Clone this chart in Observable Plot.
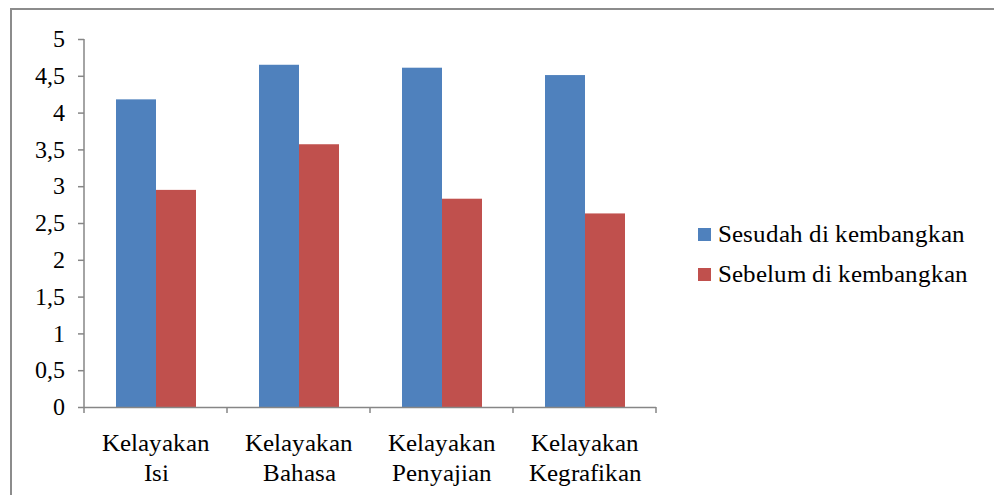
<!DOCTYPE html>
<html>
<head>
<meta charset="utf-8">
<script src="https://cdn.jsdelivr.net/npm/d3@7"></script>
<script src="https://cdn.jsdelivr.net/npm/@observablehq/plot@0.6"></script>
<style>
  @font-face { font-family: "ChartSerif"; src: local("Liberation Serif"), local("LiberationSerif"), local("LiberationSerif-Regular"), local("Times New Roman"), local("DejaVu Serif"), local("DejaVuSerif"), local("Noto Serif"), local("FreeSerif"), local("Nimbus Roman"), local("NimbusRoman-Regular"); }
  html, body { margin: 0; padding: 0; background: #fff; }
  body { width: 994px; height: 495px; position: relative; overflow: hidden; font-family: "ChartSerif", "Liberation Serif", "DejaVu Serif", serif; }
  #frame { position: absolute; left: 10px; top: 8px; width: 1100px; height: 600px; border: 2px solid #8c8c8c; box-sizing: border-box; }
  #chart { position: absolute; left: 0; top: 0; }
  #legend { position: absolute; left: 698px; top: 214px; font-size: 25px; color: #000; }
  .row { display: flex; align-items: center; height: 40px; }
  .sw { width: 13px; height: 13px; margin-right: 7px; flex: none; }
</style>
</head>
<body>
<div id="frame"></div>
<div id="chart"></div>
<div id="legend"></div>
<script>
const categories = ["Kelayakan Isi", "Kelayakan Bahasa", "Kelayakan Penyajian", "Kelayakan Kegrafikan"];
const categoryLabels = ["Kelayakan\nIsi", "Kelayakan\nBahasa", "Kelayakan\nPenyajian", "Kelayakan\nKegrafikan"];
const seriesNames = ["Sesudah di kembangkan", "Sebelum di kembangkan"];
const sesudah = [4.18, 4.65, 4.61, 4.51];
const sebelum = [2.95, 3.57, 2.83, 2.63];
const colors = ["#4F81BD", "#C0504D"];
const yTicks = [0, 0.5, 1, 1.5, 2, 2.5, 3, 3.5, 4, 4.5, 5];

const data = [];
categories.forEach((c, i) => {
  data.push({category: c, series: seriesNames[0], value: sesudah[i]});
  data.push({category: c, series: seriesNames[1], value: sebelum[i]});
});

const axisColor = "#868686";
const fontFam = "ChartSerif, 'Liberation Serif', 'DejaVu Serif', serif";

const plot = Plot.plot({
  width: 680,
  height: 495,
  marginLeft: 84,
  marginRight: 24,
  marginTop: 39,
  marginBottom: 88,
  style: {fontFamily: fontFam, color: "#000", background: "transparent"},
  fx: {domain: categories, padding: 0, label: null},
  x: {domain: seriesNames, paddingInner: 0, paddingOuter: 0.744, axis: null},
  y: {domain: [0, 5], label: null},
  color: {domain: seriesNames, range: colors},
  marks: [
    Plot.barY(data, {fx: "category", x: "series", y: "value", fill: "series"}),
    Plot.ruleY([0], {stroke: axisColor, strokeWidth: 1.5}),
    Plot.axisY({ticks: yTicks, tickSize: 6, tickPadding: 14, stroke: axisColor, strokeWidth: 1.5, fill: "#000", fontSize: 24,
      tickFormat: d => String(d).replace(".", ","), label: null}),
    Plot.axisFx({anchor: "bottom", tickSize: 0, tickPadding: 23, fontSize: 25, lineHeight: 1.18, fill: "#000", label: null,
      tickFormat: d => categoryLabels[categories.indexOf(d)]})
  ]
});
document.getElementById("chart").appendChild(plot);

// Axis line and category boundary ticks, placed with the plot's own scales
const fxScale = plot.scale("fx");
const yScale = plot.scale("y");
const y0 = yScale.apply(0);
const y5 = yScale.apply(5);
const left = fxScale.apply(categories[0]);
const bounds = categories.map(c => fxScale.apply(c)).concat([fxScale.apply(categories[categories.length - 1]) + fxScale.bandwidth]);
const g = d3.select(plot).append("g").attr("stroke", axisColor).attr("stroke-width", 1.5).attr("fill", "none");
g.append("line").attr("x1", left).attr("x2", left).attr("y1", y5).attr("y2", y0);
bounds.forEach(b => g.append("line").attr("x1", b).attr("x2", b).attr("y1", y0).attr("y2", y0 + 6));

const legend = document.getElementById("legend");
seriesNames.forEach((s, i) => {
  const row = document.createElement("div");
  row.className = "row";
  const sw = document.createElement("div");
  sw.className = "sw";
  sw.style.background = colors[i];
  const t = document.createElement("span");
  t.textContent = s;
  row.appendChild(sw);
  row.appendChild(t);
  legend.appendChild(row);
});
</script>
</body>
</html>
